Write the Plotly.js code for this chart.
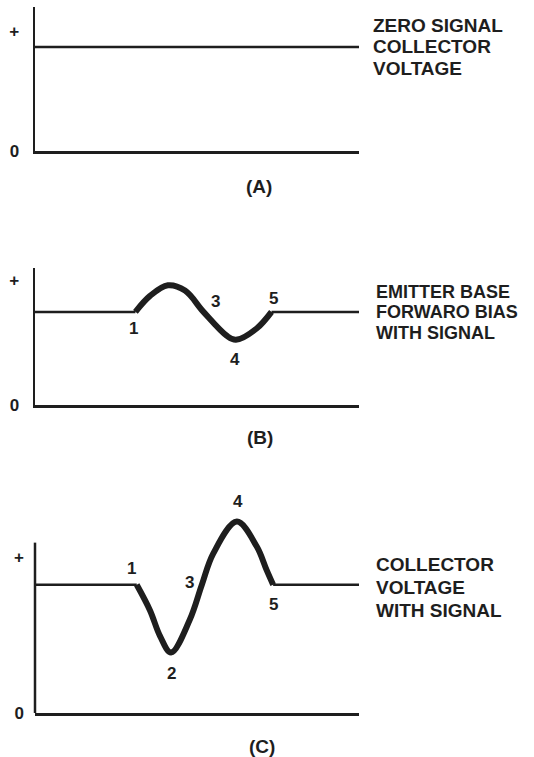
<!DOCTYPE html>
<html>
<head>
<meta charset="utf-8">
<script src="https://cdn.plot.ly/plotly-3.0.1.min.js"></script>
<style>html,body{margin:0;padding:0;background:#fff;}#chart{width:534px;height:757px;}</style>
</head>
<body>
<div id="chart"></div>
<script>
// ---- data ----
// Panel A: zero signal collector voltage
const timeA = [0, 100];
const voltA = [7, 7];
// Panel B: emitter-base forward bias with signal
const timeBflatL = [0, 31];
const voltBflatL = [7, 7];
const timeBwave = [31, 35.5, 41, 46.3, 52, 59.2, 62, 68.4, 73];
const voltBwave = [7, 8.2, 9.0, 8.6, 7, 5.2, 4.9, 5.75, 7];
const timeBflatR = [73, 100];
const voltBflatR = [7, 7];
// Panel C: collector voltage with signal
const timeCflatL = [0, 31.4];
const voltCflatL = [7, 7];
const timeCwave = [31.4, 35.5, 38.6, 42, 47.8, 51.5, 55, 62.3, 68.4, 71.5, 73.5];
const voltCwave = [7, 5.6, 4.2, 3.3, 5.1, 7, 8.7, 10.45, 9.1, 7.8, 7];
const timeCflatR = [73.5, 100];
const voltCflatR = [7, 7];
// point labels
const ptLabels = ['1', '2', '3', '4', '5'];
const labelBx = [30.3, 41.0, 55.6, 61.7, 73.5];
const labelBy = [5.72, 10.4, 7.77, 3.39, 8.03];
const labelCx = [29.8, 42.2, 47.8, 62.7, 73.5];
const labelCy = [7.91, 2.13, 7.12, 11.55, 5.9];
// tick labels
const tickText = ['0', '+'];
const plusA = 8.1, plusB = 9.4, plusC = 8.5;
const axisTopC = 9.3;
const sideTextA = ['ZERO SIGNAL', 'COLLECTOR', 'VOLTAGE'];
const sideTextB = ['EMITTER BASE', 'FORWARO BIAS', 'WITH SIGNAL'];
const sideTextC = ['COLLECTOR', 'VOLTAGE', 'WITH SIGNAL'];
const panelNames = ['(A)', '(B)', '(C)'];

// ---- layout helpers ----
const W = 534, H = 757;
const ink = '#1e1e1e';
const FONT = 'Liberation Sans, Arial, Helvetica, sans-serif';
function ydom(top, bottom) { return [(H - bottom) / H, (H - top) / H]; }
const xdom = [35 / W, 359 / W];

function thin(x, y, xa, ya) {
  return {x: x, y: y, xaxis: xa, yaxis: ya, mode: 'lines', type: 'scatter',
          line: {color: ink, width: 2.5}, hoverinfo: 'skip', showlegend: false};
}
function thick(x, y, xa, ya) {
  return {x: x, y: y, xaxis: xa, yaxis: ya, mode: 'lines', type: 'scatter',
          line: {color: ink, width: 6, shape: 'spline', smoothing: 1.0}, hoverinfo: 'skip', showlegend: false};
}

const traces = [
  thin(timeA, voltA, 'x', 'y'),
  thin(timeBflatL, voltBflatL, 'x2', 'y2'),
  thin(timeBflatR, voltBflatR, 'x2', 'y2'),
  thick(timeBwave, voltBwave, 'x2', 'y2'),
  thin(timeCflatL, voltCflatL, 'x3', 'y3'),
  thin(timeCflatR, voltCflatR, 'x3', 'y3'),
  thick(timeCwave, voltCwave, 'x3', 'y3')
];

function xax(anchor) {
  return {domain: xdom, range: [0, 100], anchor: anchor, showline: true, linecolor: ink, linewidth: 2.5,
          showgrid: false, zeroline: false, showticklabels: false, ticks: '', fixedrange: true};
}
function yax(anchor, dom, rng, plus, showline) {
  return {domain: dom, range: rng, anchor: anchor, showline: showline, linecolor: ink, linewidth: 2.5,
          showgrid: false, zeroline: false, ticks: '', tickvals: [0, plus], ticktext: tickText,
          tickfont: {family: FONT, size: 17, color: ink, weight: 'bold'}, ticklabelstandoff: 10, fixedrange: true};
}

const annotations = [];
function side(lines, x, ys, size) {
  lines.forEach((t, i) => annotations.push({text: t, xref: 'paper', yref: 'paper', x: x / W, y: (H - ys[i]) / H,
    xanchor: 'left', yanchor: 'middle', showarrow: false,
    font: {family: FONT, size: size, color: ink, weight: 'bold'}}));
}
side(sideTextA, 371, [25, 47, 69], 19);
side(sideTextB, 374, [292, 312.5, 333], 18);
side(sideTextC, 374, [564, 587, 610], 19);
[[259, 186], [260, 437], [262, 746]].forEach((p, i) => annotations.push({text: panelNames[i], xref: 'paper', yref: 'paper',
  x: p[0] / W, y: (H - p[1]) / H, xanchor: 'center', yanchor: 'middle', showarrow: false,
  font: {family: FONT, size: 19, color: ink, weight: 'bold'}}));
function pts(xs, ys, xa, ya) {
  ptLabels.forEach((t, i) => annotations.push({text: t, xref: xa, yref: ya, x: xs[i], y: ys[i],
    xanchor: 'center', yanchor: 'middle', showarrow: false,
    font: {family: FONT, size: 17, color: ink, weight: 'bold'}}));
}
pts(labelBx, labelBy, 'x2', 'y2');
pts(labelCx, labelCy, 'x3', 'y3');

const layout = {
  width: W, height: H, margin: {l: 0, r: 0, t: 0, b: 0},
  paper_bgcolor: '#fff', plot_bgcolor: 'rgba(0,0,0,0)', showlegend: false,
  xaxis: xax('y'), yaxis: yax('x', ydom(7, 151), [0, 9.7], plusA, true),
  xaxis2: xax('y2'), yaxis2: yax('x2', ydom(268, 405), [0, 10.3], plusB, true),
  xaxis3: xax('y3'), yaxis3: yax('x3', ydom(495, 713), [0, 11.9], plusC, false),
  shapes: [{type: 'line', xref: 'x3 domain', yref: 'y3', x0: 0, x1: 0, y0: 0, y1: axisTopC,
            line: {color: ink, width: 2.5}}],
  annotations: annotations
};

Plotly.newPlot('chart', traces, layout, {displayModeBar: false, staticPlot: true});
</script>
</body>
</html>
